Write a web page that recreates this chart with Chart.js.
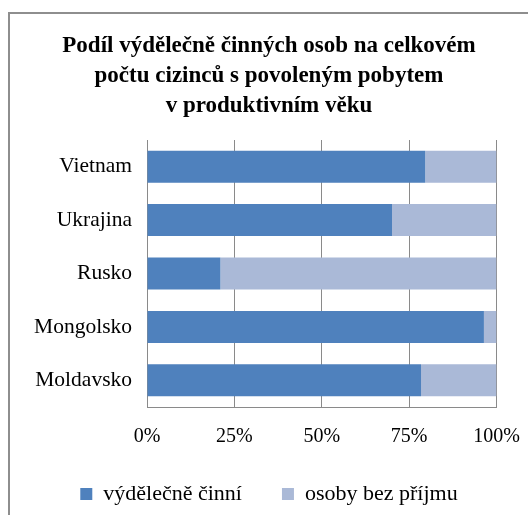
<!DOCTYPE html>
<html>
<head>
<meta charset="utf-8">
<script src="https://cdn.jsdelivr.net/npm/chart.js@4"></script>
<style>
  html, body { margin: 0; padding: 0; background: #fff; }
  #wrap { position: relative; width: 528px; height: 515px; }
</style>
</head>
<body>
<div id="wrap"><canvas id="podil" width="528" height="515"></canvas></div>
<script>
const zeme = ['Vietnam', 'Ukrajina', 'Rusko', 'Mongolsko', 'Moldavsko']
const vydelecne = [79.6, 70.1, 21.0, 96.4, 78.4]
const bezPrijmu = [20.4, 29.9, 79.0, 3.6, 21.6]
const osaX = [0, 25, 50, 75, 100]

const FONT = "'Liberation Serif', 'Times New Roman', serif"

// ramecek grafu (prava a spodni hrana jsou mimo obrazek)
const ramecek = {
    id: 'ramecek',
    beforeDraw(chart) {
        const ctx = chart.ctx
        ctx.save()
        ctx.strokeStyle = '#8e8e8e'
        ctx.lineWidth = 2
        ctx.beginPath()
        ctx.moveTo(9, 530)
        ctx.lineTo(9, 13)
        ctx.lineTo(540, 13)
        ctx.stroke()
        ctx.restore()
    }
}

const podil = new Chart(
    document.getElementById('podil'),
    {
        type: 'bar',
        data: {
            labels: zeme,
            datasets: [{
                label: 'výdělečně činní',
                data: vydelecne,
                backgroundColor: '#4F81BD',
                borderWidth: 0,
            }, {
                label: 'osoby bez příjmu',
                data: bezPrijmu,
                backgroundColor: '#AAB9D7',
                borderWidth: 0,
            }]
        },
        options: {
            indexAxis: 'y',
            responsive: false,
            animation: false,
            barPercentage: 0.6,
            categoryPercentage: 1,
            layout: {
                padding: { left: 10, right: 0, top: 0, bottom: 0 }
            },
            scales: {
                x: {
                    stacked: true,
                    min: 0,
                    max: 100,
                    afterBuildTicks: (s) => { s.ticks = osaX.map((v) => ({ value: v })) },
                    afterFit: (s) => { s.height = 36; s.paddingRight = 31.5 },
                    grid: { color: '#8a8a8a', lineWidth: 1, drawTicks: false },
                    border: { display: true, color: '#8a8a8a', width: 1 },
                    ticks: {
                        padding: 18,
                        color: '#000',
                        font: { family: FONT, size: 20 },
                        callback: (v) => v + '%',
                    }
                },
                y: {
                    stacked: true,
                    afterFit: (s) => { s.width = 137 },
                    grid: { display: false, drawTicks: false },
                    border: { display: true, color: '#8a8a8a', width: 1 },
                    ticks: {
                        padding: 15,
                        color: '#000',
                        font: { family: FONT, size: 21.5 },
                    }
                }
            },
            plugins: {
                title: {
                    display: true,
                    text: [
                        'Podíl výdělečně činných osob na celkovém',
                        'počtu cizinců s povoleným pobytem',
                        'v produktivním věku'
                    ],
                    color: '#000',
                    font: { family: FONT, size: 23, weight: 'bold', lineHeight: 30 / 23 },
                    padding: { top: 31, bottom: 19 },
                },
                legend: {
                    position: 'bottom',
                    labels: {
                        color: '#000',
                        font: { family: FONT, size: 22 },
                        boxWidth: 12,
                        boxHeight: 12,
                        padding: 40,
                    }
                },
                tooltip: { enabled: false }
            }
        },
        plugins: [ramecek]
    }
)
</script>
</body>
</html>
